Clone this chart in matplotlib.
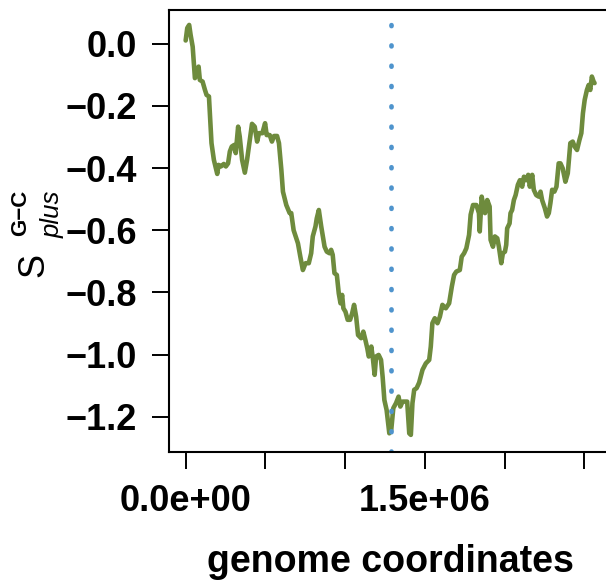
import numpy as np
import matplotlib
matplotlib.use('Agg')
import matplotlib.pyplot as plt

# cumulative G-C skew along the genome (positions in kb)
pos_kb = [0, 10, 22, 31, 44, 58, 69, 81, 89, 106, 121, 131, 146, 162, 177, 198, 206,
          221, 239, 252, 266, 277, 289, 304, 314, 329, 339, 354, 371, 385, 402, 416,
          433, 448, 460, 481, 498, 508, 527, 541, 554, 573, 585, 600, 610, 631, 652,
          662, 677, 704, 719, 735, 752, 772, 787, 797, 814, 822, 835, 850, 871, 885,
          902, 912, 922, 933, 948, 960, 971, 981, 989, 1002, 1016, 1031, 1044, 1056,
          1069, 1081, 1100, 1114, 1127, 1139, 1148, 1158, 1164, 1175, 1185, 1194,
          1210, 1225, 1235, 1246, 1260, 1277, 1289, 1302, 1319, 1335, 1346, 1360,
          1377, 1389, 1402, 1412, 1422, 1433, 1448, 1464, 1485, 1506, 1527, 1537,
          1547, 1562, 1579, 1594, 1610, 1631, 1652, 1669, 1683, 1697, 1719, 1731,
          1746, 1760, 1777, 1787, 1802, 1823, 1839, 1844, 1856, 1866, 1877, 1891,
          1906, 1912, 1927, 1939, 1954, 1964, 1979, 1989, 2002, 2010, 2016, 2031,
          2037, 2047, 2058, 2069, 2083, 2096, 2110, 2121, 2135, 2148, 2158, 2173,
          2183, 2198, 2214, 2225, 2235, 2252, 2266, 2277, 2287, 2298, 2312, 2325,
          2339, 2350, 2364, 2381, 2396, 2412, 2427, 2439, 2454, 2469, 2481, 2491,
          2502, 2516, 2527, 2537, 2547, 2558, 2564]
skew = [0.01, 0.05, 0.06, 0.028, -0.01, -0.111, -0.10, -0.074, -0.117, -0.122, -0.149,
        -0.165, -0.17, -0.32, -0.374, -0.419, -0.39, -0.395, -0.387, -0.395, -0.385,
        -0.347, -0.331, -0.326, -0.352, -0.267, -0.299, -0.374, -0.415, -0.374, -0.31,
        -0.258, -0.267, -0.315, -0.288, -0.288, -0.256, -0.294, -0.294, -0.315, -0.297,
        -0.297, -0.32, -0.406, -0.476, -0.519, -0.545,
        -0.545, -0.6, -0.642, -0.685, -0.728, -0.706, -0.706, -0.674, -0.62, -0.588,
        -0.562, -0.535, -0.588, -0.653, -0.669, -0.674, -0.663, -0.679, -0.738, -0.744,
        -0.803, -0.835, -0.808, -0.851, -0.862, -0.888, -0.888, -0.867, -0.84, -0.878,
        -0.937, -0.947, -0.926, -0.953, -0.98, -1.006, -0.996, -0.974, -1.017, -1.065,
        -1.006, -1.001, -1.017, -1.071, -1.146, -1.178, -1.253, -1.242, -1.172, -1.156,
        -1.135, -1.167, -1.151, -1.151, -1.151, -1.253, -1.258, -1.156, -1.113, -1.108,
        -1.09, -1.049, -1.028, -1.017, -0.974, -0.899, -0.883, -0.899, -0.878, -0.84,
        -0.851, -0.835, -0.781, -0.744, -0.733, -0.728, -0.685, -0.674, -0.658, -0.615,
        -0.55, -0.519, -0.519, -0.545, -0.604, -0.492, -0.519, -0.545, -0.503, -0.524,
        -0.631, -0.653, -0.62, -0.626, -0.653, -0.706, -0.674, -0.669, -0.647, -0.594,
        -0.578, -0.545, -0.535, -0.503, -0.487, -0.454, -0.439, -0.46, -0.428, -0.439,
        -0.422, -0.46, -0.422, -0.47, -0.487, -0.492, -0.476, -0.503, -0.529, -0.556,
        -0.545, -0.513, -0.47, -0.476, -0.46, -0.385, -0.385, -0.401, -0.444, -0.417,
        -0.32, -0.315, -0.331, -0.342, -0.31, -0.288, -0.224, -0.181, -0.149, -0.133,
        -0.149, -0.106, -0.122, -0.127]
origin_pos = 1.289e6
x_ticks = [0, 5e5, 1e6, 1.5e6, 2e6, 2.5e6]
x_ticklabels = ['0.0e+00', '', '', '1.5e+06', '', '']
y_ticks = [0.0, -0.2, -0.4, -0.6, -0.8, -1.0, -1.2]

plt.rcParams['font.family'] = ['Liberation Sans', 'DejaVu Sans']

W, H = 606, 581
fig = plt.figure(figsize=(W / 100, H / 100), dpi=100)
ax = fig.add_axes([169.3 / W, 1 - 452.3 / H, (611 - 169.3) / W, (452.3 - 9.7) / H])

pos = np.array(pos_kb) * 1e3
ax.plot(pos, skew, color='#6E8B3D', lw=3.3, solid_joinstyle='round', solid_capstyle='round')
ax.axvline(origin_pos, color='#4F94CD', lw=3.4, linestyle=(0, (0.2, 4.1)),
           dash_capstyle='round')

ax.set_xlim(-1.026e5, 2.667e6)
ax.set_ylim(-1.314, 0.109)
ax.set_xticks(x_ticks)
ax.set_xticklabels(x_ticklabels)
ax.set_yticks(y_ticks)
ax.set_yticklabels([f'{v:.1f}'.replace('-', '\u2212') for v in y_ticks])
for lab in ax.get_xticklabels() + ax.get_yticklabels():
    lab.set_fontweight('bold')
    lab.set_fontsize(26)
ax.tick_params(axis='both', length=12, width=1.4, direction='out', color='black')
ax.tick_params(axis='y', pad=11)
ax.tick_params(axis='x', pad=11)
for s in ax.spines.values():
    s.set_linewidth(1.5)

fig.text(390 / W, 1 - 571.7 / H, 'genome coordinates', ha='center', va='baseline',
         fontsize=27, fontweight='bold')

# y label built from pieces: S, bold superscript, italic subscript
kw = dict(rotation=90, rotation_mode='anchor', ha='left', va='baseline')
fig.text(43 / W, 1 - 277 / H, 'S', fontsize=26, **kw)
fig.text(26.5 / W, 1 - 236 / H, 'G\u2212C', fontsize=16, fontweight='bold', **kw)
fig.text(59.5 / W, 1 - 238 / H, 'plus', fontsize=18.5, style='italic', **kw)

fig.savefig('out.png', dpi=100)
